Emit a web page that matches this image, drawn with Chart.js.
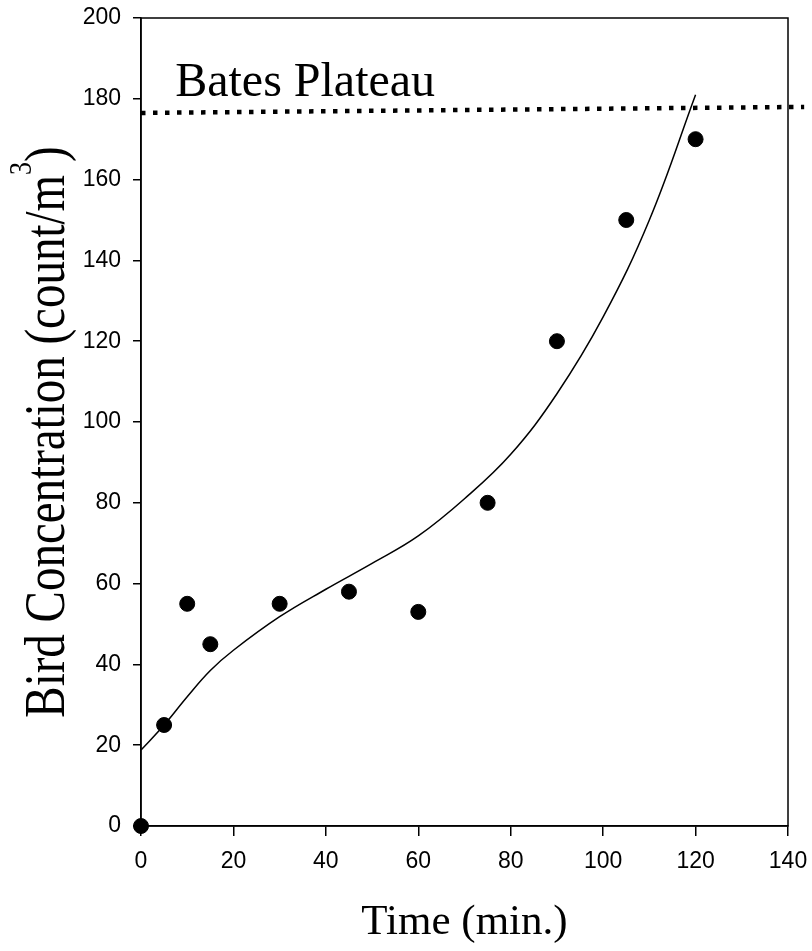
<!DOCTYPE html>
<html>
<head>
<meta charset="utf-8">
<script src="https://cdn.jsdelivr.net/npm/chart.js@4/dist/chart.umd.min.js"></script>
<style>
  html, body { margin: 0; padding: 0; background: #fff; }
  #wrap { width: 812px; height: 951px; }
</style>
</head>
<body>
<div id="wrap"><canvas id="grafico"></canvas></div>
<script>
// measured points
const timeMin = [0, 5, 10, 15, 30, 45, 60, 75, 90, 105, 120];
const birdConc = [0, 25, 55, 45, 55, 58, 53, 80, 120, 150, 170];

// fitted curve
const fitTime = [0, 5, 10, 15, 20, 30, 40, 50, 60, 70, 80, 90, 100, 110, 120];
const fitConc = [18.8, 25, 32, 38.5, 43.5, 51.8, 58.6, 65, 71.8, 81, 92, 107, 126, 150, 181];

// plateau line
const plateauTime = [0, 143.5];
const plateauConc = [176.5, 178];
const plateauLabel = 'Bates Plateau';
const plateauLabelAt = [7.4, 180.8];

const xTicks = [0, 20, 40, 60, 80, 100, 120, 140];
const yTicks = [0, 20, 40, 60, 80, 100, 120, 140, 160, 180, 200];

const yTitle = 'Bird Concentration (count/m';
const yTitleSup = '3';
const yTitleEnd = ')';

const pts = (xs, ys) => xs.map((x, i) => ({ x: x, y: ys[i] }));

const serif = '"Liberation Serif", "Times New Roman", serif';

// box around the plot, plateau label and the (narrow) y title
const moldura = {
    id: 'moldura',
    afterDraw(chart) {
        const ctx = chart.ctx;
        const a = chart.chartArea;
        ctx.save();
        ctx.strokeStyle = '#000';
        ctx.lineWidth = 1.5;
        ctx.strokeRect(a.left, a.top, a.right - a.left, a.bottom - a.top);

        ctx.fillStyle = '#000';
        const px = chart.scales.x.getPixelForValue(plateauLabelAt[0]);
        const py = chart.scales.y.getPixelForValue(plateauLabelAt[1]);
        ctx.font = '48px ' + serif;
        ctx.textBaseline = 'alphabetic';
        ctx.textAlign = 'left';
        ctx.fillText(plateauLabel, px, py);

        // y title
        const big = '58px ' + serif;
        const small = '32px ' + serif;
        ctx.font = big;
        const w1 = ctx.measureText(yTitle).width;
        const w3 = ctx.measureText(yTitleEnd).width;
        ctx.font = small;
        const w2 = ctx.measureText(yTitleSup).width;
        const total = w1 + w2 + w3;
        ctx.translate(64, 432);
        ctx.rotate(-Math.PI / 2);
        ctx.scale(0.81, 1);
        let x0 = -total / 2;
        ctx.font = big;
        ctx.fillText(yTitle, x0, 0);
        x0 += w1;
        ctx.font = small;
        ctx.fillText(yTitleSup, x0, -33);
        x0 += w2;
        ctx.font = big;
        ctx.fillText(yTitleEnd, x0, 0);
        ctx.restore();
    }
};

new Chart(document.getElementById('grafico'), {
    type: 'scatter',
    data: {
        datasets: [
            {
                type: 'line',
                data: pts(plateauTime, plateauConc),
                borderColor: '#000',
                borderWidth: 4.5,
                borderDash: [4.5, 7.5],
                pointRadius: 0,
                clip: false,
                order: 3
            },
            {
                type: 'line',
                data: pts(fitTime, fitConc),
                borderColor: '#000',
                borderWidth: 1.5,
                pointRadius: 0,
                tension: 0.4,
                clip: false,
                order: 2
            },
            {
                data: pts(timeMin, birdConc),
                backgroundColor: '#000',
                borderColor: '#000',
                pointRadius: 7.5,
                clip: false,
                order: 1
            }
        ]
    },
    options: {
        responsive: true,
        maintainAspectRatio: false,
        animation: false,
        layout: { padding: { top: 18, right: 24, left: 0, bottom: 0 } },
        plugins: { legend: { display: false }, tooltip: { enabled: false } },
        scales: {
            x: {
                type: 'linear',
                min: 0,
                max: 140,
                afterBuildTicks: s => { s.ticks = xTicks.map(v => ({ value: v })); },
                afterFit: s => { s.height = 125; s.paddingLeft = 0; s.paddingRight = 0; },
                border: { color: '#000', width: 1.5 },
                grid: { drawOnChartArea: false, tickLength: 10, color: '#000', lineWidth: 1.5 },
                ticks: { color: '#000', padding: 12, maxRotation: 0, font: { family: '"Liberation Sans", Arial, sans-serif', size: 23 } },
                title: {
                    display: true,
                    text: 'Time (min.)',
                    color: '#000',
                    font: { family: serif, size: 43, lineHeight: 1 },
                    padding: { top: 0, bottom: 7 }
                }
            },
            y: {
                type: 'linear',
                min: 0,
                max: 200,
                afterBuildTicks: s => { s.ticks = yTicks.map(v => ({ value: v })); },
                afterFit: s => { s.width = 141; s.paddingTop = 0; s.paddingBottom = 0; },
                border: { color: '#000', width: 1.5 },
                grid: { drawOnChartArea: false, tickLength: 8, color: '#000', lineWidth: 1.5 },
                ticks: { color: '#000', padding: 12, font: { family: '"Liberation Sans", Arial, sans-serif', size: 23 } },
                title: { display: false }
            }
        }
    },
    plugins: [moldura]
});
</script>
</body>
</html>
